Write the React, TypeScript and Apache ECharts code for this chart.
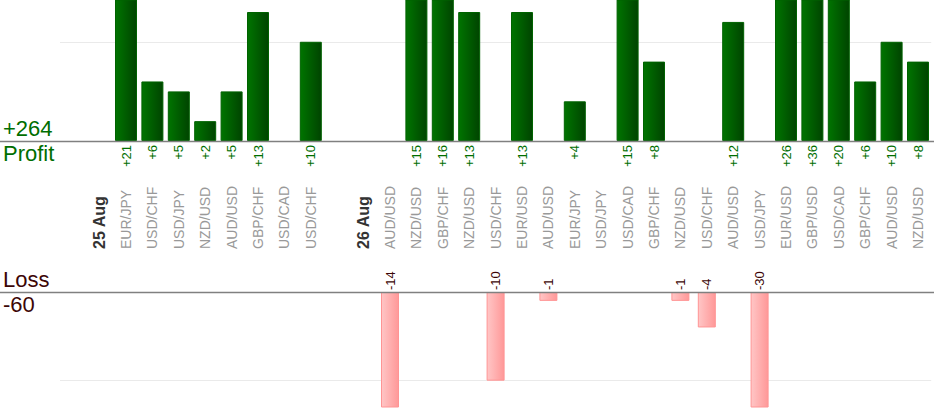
import React, { useEffect, useRef } from "react";
import * as echarts from "echarts";

const categories = [
  "", "25 Aug", "EUR/JPY", "USD/CHF", "USD/JPY", "NZD/USD", "AUD/USD", "GBP/CHF", "USD/CAD", "USD/CHF",
  "", "26 Aug", "AUD/USD", "NZD/USD", "GBP/CHF", "NZD/USD", "USD/CHF", "EUR/USD", "AUD/USD", "EUR/JPY",
  "USD/JPY", "USD/CAD", "GBP/CHF", "NZD/USD", "USD/CHF", "AUD/USD", "USD/JPY", "EUR/USD", "GBP/USD",
  "USD/CAD", "GBP/CHF", "AUD/USD", "NZD/USD",
];
const dateLabels = ["25 Aug", "26 Aug"];

const profit = [
  null, null, 21, 6, 5, 2, 5, 13, null, 10,
  null, null, null, 15, 16, 13, null, 13, null, 4,
  null, 15, 8, null, null, 12, null, 26, 36,
  20, 6, 10, 8,
];
const loss = [
  null, null, null, null, null, null, null, null, null, null,
  null, null, -14, null, null, null, -10, null, -1, null,
  null, null, null, -1, -4, null, -30, null, null,
  null, null, null, null,
];

const FONT = "Arial, 'Liberation Sans', sans-serif";
const GRID_COLORS = ["rgba(0,0,0,0)", "#eaeaea", "rgba(0,0,0,0)"];

export default function App() {
  const ref = useRef<HTMLDivElement>(null);
  useEffect(() => {
    if (!ref.current) return;
    const chart = echarts.init(ref.current, null, { renderer: "svg" });
    const totalProfit = profit.reduce((a: number, v) => a + (v ?? 0), 0);
    const totalLoss = loss.reduce((a: number, v) => a + (v ?? 0), 0);
    // loss depth drawn on an inverted axis (0 at the top, growing downward)
    const lossDepth = loss.map((v) => (v == null ? null : -v));
    const gridW = 871.2;
    chart.setOption({
      animation: false,
      backgroundColor: "#ffffff",
      grid: [
        { left: 60, width: gridW, top: 0, height: 141 },
        { left: 60, width: gridW, top: 292, height: 115 },
      ],
      xAxis: [
        {
          type: "category",
          gridIndex: 0,
          data: categories,
          axisLine: { show: false },
          axisTick: { show: false },
          axisLabel: {
            interval: 0,
            rotate: 90,
            align: "left",
            verticalAlign: "middle",
            margin: 108,
            color: "#999999",
            fontSize: 14,
            fontFamily: FONT,
            formatter: (v: string) => (dateLabels.includes(v) ? `{b|${v}}` : v),
            rich: {
              b: { fontWeight: "bold", color: "#333333", fontSize: 16, fontFamily: FONT },
            },
          },
        },
        {
          type: "category",
          gridIndex: 1,
          data: categories,
          axisLine: { show: false },
          axisTick: { show: false },
          axisLabel: { show: false },
        },
      ],
      yAxis: [
        {
          type: "value",
          gridIndex: 0,
          min: 0,
          max: 14.21,
          interval: 10,
          axisLine: { show: false },
          axisTick: { show: false },
          axisLabel: { show: false },
          splitLine: { show: true, lineStyle: { color: GRID_COLORS, width: 1 } },
        },
        {
          type: "value",
          gridIndex: 1,
          inverse: true,
          min: 0,
          max: 12.97,
          interval: 10,
          axisLine: { show: false },
          axisTick: { show: false },
          axisLabel: { show: false },
          splitLine: { show: true, lineStyle: { color: GRID_COLORS, width: 1 } },
        },
      ],
      series: [
        {
          type: "bar",
          xAxisIndex: 0,
          yAxisIndex: 0,
          data: profit,
          barWidth: 22,
          clip: true,
          itemStyle: {
            color: new echarts.graphic.LinearGradient(0, 0, 1, 0, [
              { offset: 0, color: "#007400" },
              { offset: 1, color: "#004400" },
            ]),
            borderColor: "#006200",
            borderWidth: 1,
          },
          label: {
            show: true,
            position: "bottom",
            distance: 4,
            rotate: 90,
            align: "right",
            verticalAlign: "middle",
            color: "#006e00",
            fontSize: 13,
            fontFamily: FONT,
            formatter: (p: any) => `+${p.value}`,
          },
          z: 3,
        },
        {
          type: "bar",
          xAxisIndex: 1,
          yAxisIndex: 1,
          data: lossDepth,
          barWidth: 18,
          clip: true,
          itemStyle: {
            color: new echarts.graphic.LinearGradient(0, 0, 1, 0, [
              { offset: 0, color: "#ffc6c6" },
              { offset: 1, color: "#ff9898" },
            ]),
            borderColor: "#ff9494",
            borderWidth: 1,
          },
          label: {
            show: true,
            position: "top",
            distance: 2,
            rotate: 90,
            align: "left",
            verticalAlign: "middle",
            color: "#3c0606",
            fontSize: 13,
            fontFamily: FONT,
            formatter: (p: any) => `${-p.value}`,
          },
          z: 3,
        },
      ],
      graphic: [
        {
          type: "line",
          shape: { x1: 0, y1: 141.5, x2: 934, y2: 141.5 },
          style: { stroke: "#808080", lineWidth: 1.5 },
          z: 10,
        },
        {
          type: "line",
          shape: { x1: 0, y1: 292.5, x2: 934, y2: 292.5 },
          style: { stroke: "#808080", lineWidth: 1.5 },
          z: 10,
        },
        {
          type: "text",
          left: 3,
          top: 117,
          style: { text: `+${totalProfit}`, fill: "#006e00", fontSize: 22, fontFamily: FONT },
        },
        {
          type: "text",
          left: 3,
          top: 142,
          style: { text: "Profit", fill: "#006e00", fontSize: 22, fontFamily: FONT },
        },
        {
          type: "text",
          left: 3,
          top: 268,
          style: { text: "Loss", fill: "#3c0606", fontSize: 22, fontFamily: FONT },
        },
        {
          type: "text",
          left: 3,
          top: 293,
          style: { text: `${totalLoss}`, fill: "#3c0606", fontSize: 22, fontFamily: FONT },
        },
      ],
    });
    return () => chart.dispose();
  }, []);
  return (
    <div
      ref={ref}
      style={{ position: "absolute", left: 0, top: 0, width: 934, height: 420, background: "#fff" }}
    />
  );
}
